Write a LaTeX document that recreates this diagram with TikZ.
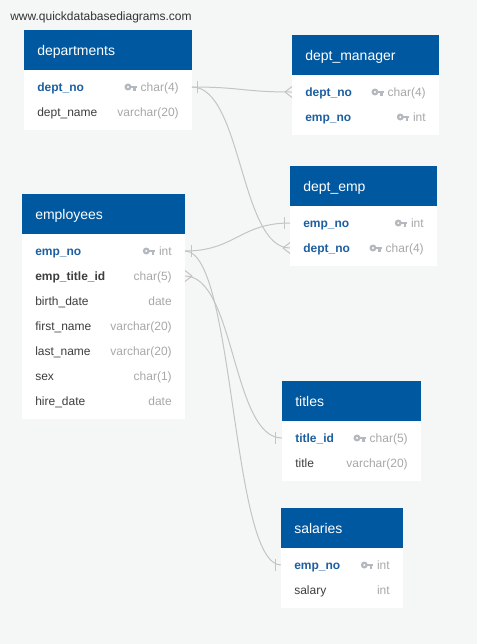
\documentclass[tikz,border=0pt]{standalone}
\usepackage{fontspec}
\setmainfont{Liberation Sans}
\usetikzlibrary{calc}
\definecolor{bgc}{HTML}{F5F6F6}
\definecolor{hdrc}{HTML}{0058A0}
\definecolor{pkc}{HTML}{1D5FA0}
\definecolor{namec}{HTML}{3E3E3E}
\definecolor{typec}{HTML}{A8A8A8}
\definecolor{keyc}{HTML}{B4B8BF}
\definecolor{linec}{HTML}{C4C4C4}
\definecolor{urlc}{HTML}{333333}
\tikzset{
  tblhead/.style={fill=hdrc, draw=none, anchor=north west, inner sep=0pt, minimum height=30pt},
  tblbody/.style={fill=white, draw=none, anchor=north west, inner sep=0pt},
  tbltitle/.style={text=white, anchor=base west, inner sep=0pt, font=\fontsize{10.5}{12}\selectfont},
  fieldtxt/.style={text=namec, anchor=base west, inner sep=0pt, font=\fontsize{9}{11}\selectfont},
  pktxt/.style={text=pkc, anchor=base west, inner sep=0pt, font=\fontsize{9}{11}\selectfont\bfseries},
  fktxt/.style={text=namec, anchor=base west, inner sep=0pt, font=\fontsize{9}{11}\selectfont\bfseries},
  typetxt/.style={text=typec, anchor=base east, inner sep=0pt, font=\fontsize{9}{11}\selectfont},
  conn/.style={draw=linec, line width=0.75pt},
  pkkey/.pic={
    \fill[keyc, even odd rule] (-9,0) circle (3.5) (-9,0) circle (1.3);
    \fill[keyc] (-6.2,-1.3) rectangle (0,1.3);
    \fill[keyc] (-3.6,1.0) rectangle (-1.4,3.6);
  }
}
% table: id, x, y, w, nrows, title
\newcommand\dbtab[6]{%
  \def\tid{#1}\def\tx{#2}\def\ty{#3}\def\tw{#4}%
  \node[tblhead, minimum width=#4*0.75pt] (#1) at (#2,#3) {};
  \node[tblbody, minimum width=#4*0.75pt, minimum height={(35+25*(#5-1))*0.75pt}] (#1-body) at (#2,#3+40) {};
  \node[tbltitle] (#1-title) at (#2+13,#3+25) {#6};
}
% row: k, style, name, type
\newcommand\dbrow[4]{%
  \node[#2] (\tid-#1) at (\tx+13, \ty+36.3+25*#1) {#3};
  \node[typetxt] (\tid-#1-type) at (\tx+\tw-13, \ty+36.3+25*#1) {#4};
  \coordinate (\tid-#1-L) at (\tx, \ty+32+25*#1);
  \coordinate (\tid-#1-R) at (\tx+\tw, \ty+32+25*#1);
}
\newcommand\keyat[2]{% key left of the type text of row #2 of table #1
  \path ($(#1-#2-type.base west)+(-3.5,-4.3)$) pic {pkkey};
}
\newcommand\barmark[2]{\draw[conn] ($(#1)+(#2,-6)$) -- ($(#1)+(#2,6)$);}
\newcommand\crowleft[1]{\draw[conn] ($(#1)+(0,-5.5)$) -- ($(#1)+(-7,0)$) -- ($(#1)+(0,5.5)$);}
\newcommand\crowright[1]{\draw[conn] ($(#1)+(0,-5.5)$) -- ($(#1)+(7,0)$) -- ($(#1)+(0,5.5)$);}
\begin{document}
\begin{tikzpicture}[x=0.75pt, y=-0.75pt]
  \fill[bgc] (0,0) rectangle (477,644);
  \useasboundingbox (0,0) rectangle (477,644);
  \node[anchor=base west, inner sep=0pt, text=urlc, font=\fontsize{9}{11}\selectfont] (url) at (10,20.3) {www.quickdatabasediagrams.com};

  % departments
  \dbtab{departments}{24}{30}{168}{2}{departments}
  \dbrow{1}{pktxt}{dept\_no}{char(4)}\keyat{departments}{1}
  \dbrow{2}{fieldtxt}{dept\_name}{varchar(20)}

  % dept_manager
  \dbtab{dept_manager}{292}{35}{147}{2}{dept\_manager}
  \dbrow{1}{pktxt}{dept\_no}{char(4)}\keyat{dept_manager}{1}
  \dbrow{2}{pktxt}{emp\_no}{int}\keyat{dept_manager}{2}

  % dept_emp
  \dbtab{dept_emp}{290}{166}{147}{2}{dept\_emp}
  \dbrow{1}{pktxt}{emp\_no}{int}\keyat{dept_emp}{1}
  \dbrow{2}{pktxt}{dept\_no}{char(4)}\keyat{dept_emp}{2}

  % employees
  \dbtab{employees}{22}{194}{163}{7}{employees}
  \dbrow{1}{pktxt}{emp\_no}{int}\keyat{employees}{1}
  \dbrow{2}{fktxt}{emp\_title\_id}{char(5)}
  \dbrow{3}{fieldtxt}{birth\_date}{date}
  \dbrow{4}{fieldtxt}{first\_name}{varchar(20)}
  \dbrow{5}{fieldtxt}{last\_name}{varchar(20)}
  \dbrow{6}{fieldtxt}{sex}{char(1)}
  \dbrow{7}{fieldtxt}{hire\_date}{date}

  % titles
  \dbtab{titles}{282}{381}{139}{2}{titles}
  \dbrow{1}{pktxt}{title\_id}{char(5)}\keyat{titles}{1}
  \dbrow{2}{fieldtxt}{title}{varchar(20)}

  % salaries
  \dbtab{salaries}{281}{508}{122}{2}{salaries}
  \dbrow{1}{pktxt}{emp\_no}{int}\keyat{salaries}{1}
  \dbrow{2}{fieldtxt}{salary}{int}

  % connectors
  \draw[conn] (departments-1-R) .. controls +(50,0) and +(-50,0) .. (dept_manager-1-L);
  \draw[conn] (departments-1-R) .. controls +(50,0) and +(-50,0) .. (dept_emp-2-L);
  \barmark{departments-1-R}{5}
  \crowleft{dept_manager-1-L}
  \crowleft{dept_emp-2-L}

  \draw[conn] (employees-1-R) .. controls +(50,0) and +(-50,0) .. (dept_emp-1-L);
  \draw[conn] (employees-1-R) .. controls +(50,0) and +(-50,0) .. (salaries-1-L);
  \barmark{employees-1-R}{6}
  \barmark{dept_emp-1-L}{-6}
  \barmark{salaries-1-L}{-6}

  \draw[conn] (employees-2-R) .. controls +(50,0) and +(-50,0) .. (titles-1-L);
  \crowright{employees-2-R}
  \barmark{titles-1-L}{-7}
\end{tikzpicture}
\end{document}
